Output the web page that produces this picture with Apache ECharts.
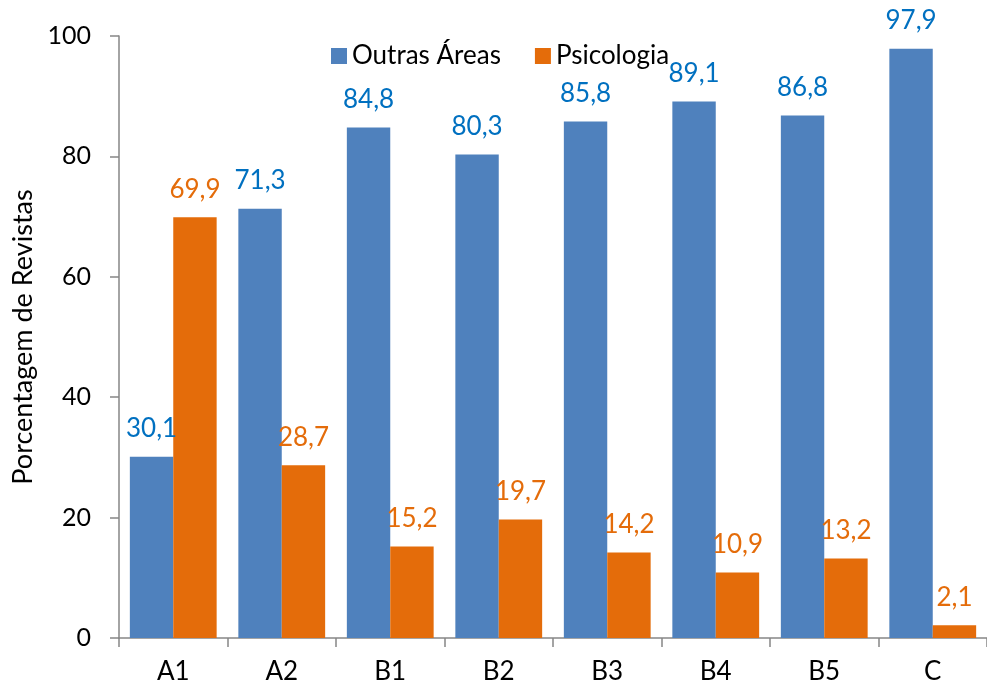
<!DOCTYPE html>
<html>
<head>
<meta charset="utf-8">
<script src="https://cdn.jsdelivr.net/npm/echarts@6/dist/echarts.min.js"></script>
<style>
  html, body { margin: 0; padding: 0; background: #fff; }
  #chart { width: 987px; height: 686px; }
</style>
</head>
<body>
<div id="chart"></div>
<script>
  // categorias das revistas
  var categories = ['A1', 'A2', 'B1', 'B2', 'B3', 'B4', 'B5', 'C'];
  var outrasAreas = [30.1, 71.3, 84.8, 80.3, 85.8, 89.1, 86.8, 97.9];
  var psicologia = [69.9, 28.7, 15.2, 19.7, 14.2, 10.9, 13.2, 2.1];
  var yTicks = [0, 20, 40, 60, 80, 100];

  var font = 'Lato, "Open Sans", sans-serif';
  var fmt = function (p) { return String(p.value).replace('.', ','); };

  var chart = echarts.init(document.getElementById('chart'));
  chart.setOption({
    animation: false,
    textStyle: { fontFamily: font },
    legend: {
      left: 326,
      top: 38,
      itemWidth: 16,
      itemHeight: 16,
      itemGap: 34,
      icon: 'rect',
      textStyle: { fontSize: 26, color: '#000', fontFamily: font },
      data: ['Outras Áreas', 'Psicologia']
    },
    grid: { left: 119, right: -5, top: 36, bottom: 48 },
    xAxis: {
      type: 'category',
      data: categories,
      axisLine: { lineStyle: { color: '#868686', width: 1.5 } },
      axisTick: { show: true, length: 9, lineStyle: { color: '#868686', width: 1.5 } },
      axisLabel: { fontSize: 26, color: '#000', margin: 21 }
    },
    yAxis: {
      type: 'value',
      min: yTicks[0],
      max: yTicks[yTicks.length - 1],
      interval: 20,
      name: 'Porcentagem de Revistas',
      nameLocation: 'middle',
      nameGap: 82,
      nameTextStyle: { fontSize: 27, color: '#000' },
      axisLine: { show: true, lineStyle: { color: '#868686', width: 1.5 } },
      axisTick: { show: true, length: 9, lineStyle: { color: '#868686', width: 1.5 } },
      axisLabel: { fontSize: 25, color: '#000', margin: 28 },
      splitLine: { show: false }
    },
    series: [
      {
        name: 'Outras Áreas',
        type: 'bar',
        data: outrasAreas,
        barGap: '0%',
        barCategoryGap: '20%',
        itemStyle: { color: '#4F81BD' },
        label: { show: true, position: 'top', distance: 15, fontSize: 26, color: '#0070C0', formatter: fmt }
      },
      {
        name: 'Psicologia',
        type: 'bar',
        data: psicologia,
        itemStyle: { color: '#E46C0A' },
        label: { show: true, position: 'top', distance: 15, fontSize: 26, color: '#E46C0A', formatter: fmt }
      }
    ]
  });
</script>
</body>
</html>
